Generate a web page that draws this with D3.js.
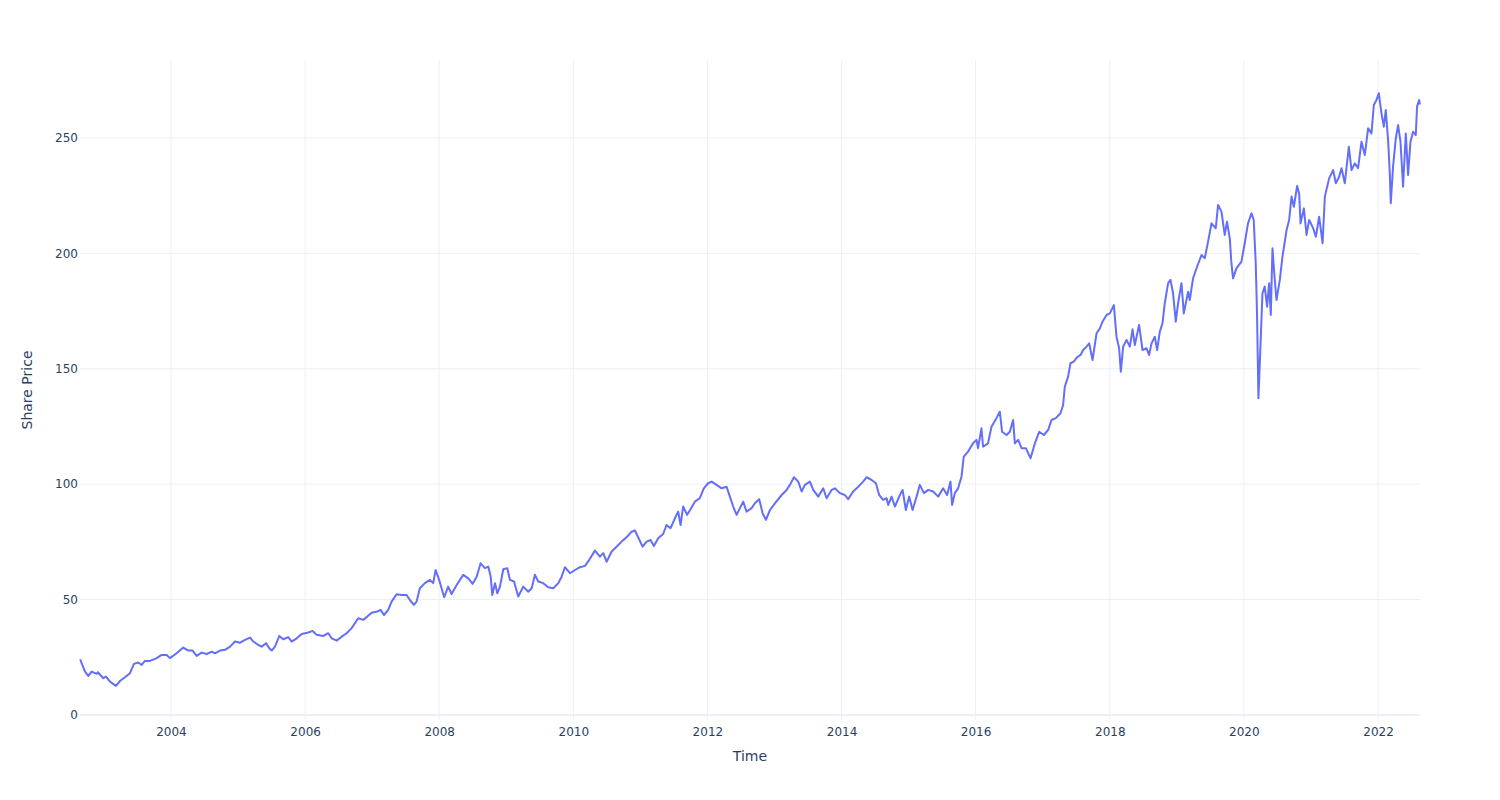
<!DOCTYPE html>
<html>
<head>
<meta charset="utf-8">
<script src="https://d3js.org/d3.v7.min.js"></script>
<title>Share Price</title>
<style>
body { margin: 0; background: #fff; }
svg { display: block; }
text { font-family: "DejaVu Sans", Verdana, sans-serif; fill: #2a3f5f; }
</style>
</head>
<body>
<svg id="svg" width="1500" height="800"></svg>
<script>

// dates as decimal years
let dates = [
  2002.645, 2002.718, 2002.767, 2002.817, 2002.892, 2002.911, 2002.990, 2003.031, 2003.090, 2003.180,
  2003.239, 2003.314, 2003.389, 2003.448, 2003.512, 2003.563, 2003.612, 2003.687, 2003.787, 2003.861,
  2003.936, 2003.985, 2004.085, 2004.183, 2004.258, 2004.323, 2004.383, 2004.457, 2004.532, 2004.607,
  2004.656, 2004.731, 2004.805, 2004.880, 2004.954, 2005.029, 2005.103, 2005.178, 2005.227, 2005.302,
  2005.352, 2005.416, 2005.465, 2005.501, 2005.550, 2005.614, 2005.674, 2005.749, 2005.799, 2005.874,
  2005.948, 2006.047, 2006.112, 2006.172, 2006.270, 2006.345, 2006.396, 2006.470, 2006.545, 2006.619,
  2006.694, 2006.792, 2006.867, 2006.927, 2006.992, 2007.076, 2007.126, 2007.176, 2007.240, 2007.290,
  2007.365, 2007.440, 2007.514, 2007.563, 2007.623, 2007.663, 2007.712, 2007.787, 2007.862, 2007.911,
  2007.947, 2008.000, 2008.036, 2008.075, 2008.134, 2008.185, 2008.260, 2008.358, 2008.433, 2008.498,
  2008.558, 2008.617, 2008.681, 2008.731, 2008.767, 2008.790, 2008.831, 2008.865, 2008.905, 2008.954,
  2009.014, 2009.054, 2009.114, 2009.178, 2009.252, 2009.327, 2009.378, 2009.427, 2009.476, 2009.551,
  2009.625, 2009.700, 2009.775, 2009.825, 2009.874, 2009.949, 2010.024, 2010.098, 2010.173, 2010.237,
  2010.322, 2010.396, 2010.446, 2010.496, 2010.571, 2010.645, 2010.720, 2010.794, 2010.869, 2010.918,
  2010.967, 2011.033, 2011.093, 2011.152, 2011.202, 2011.265, 2011.340, 2011.391, 2011.450, 2011.515,
  2011.564, 2011.600, 2011.638, 2011.698, 2011.749, 2011.813, 2011.887, 2011.947, 2012.011, 2012.062,
  2012.137, 2012.211, 2012.286, 2012.335, 2012.384, 2012.435, 2012.484, 2012.533, 2012.583, 2012.658,
  2012.707, 2012.771, 2012.822, 2012.871, 2012.931, 2013.005, 2013.105, 2013.180, 2013.229, 2013.289,
  2013.353, 2013.404, 2013.453, 2013.527, 2013.577, 2013.651, 2013.726, 2013.776, 2013.851, 2013.900,
  2013.975, 2014.049, 2014.098, 2014.173, 2014.248, 2014.322, 2014.373, 2014.448, 2014.512, 2014.561,
  2014.621, 2014.672, 2014.696, 2014.746, 2014.795, 2014.870, 2014.910, 2014.959, 2015.008, 2015.059,
  2015.119, 2015.168, 2015.228, 2015.292, 2015.366, 2015.441, 2015.515, 2015.575, 2015.625, 2015.649,
  2015.689, 2015.739, 2015.789, 2015.823, 2015.887, 2015.962, 2016.013, 2016.036, 2016.087, 2016.111,
  2016.185, 2016.236, 2016.310, 2016.360, 2016.394, 2016.460, 2016.509, 2016.558, 2016.584, 2016.633,
  2016.684, 2016.748, 2016.818, 2016.882, 2016.946, 2017.016, 2017.080, 2017.130, 2017.194, 2017.264,
  2017.303, 2017.328, 2017.377, 2017.413, 2017.462, 2017.512, 2017.563, 2017.602, 2017.653, 2017.692,
  2017.742, 2017.802, 2017.851, 2017.891, 2017.951, 2018.000, 2018.060, 2018.100, 2018.139, 2018.164,
  2018.199, 2018.249, 2018.299, 2018.339, 2018.373, 2018.437, 2018.488, 2018.547, 2018.586, 2018.622,
  2018.671, 2018.706, 2018.746, 2018.786, 2018.820, 2018.870, 2018.905, 2018.944, 2018.984, 2019.019,
  2019.069, 2019.104, 2019.168, 2019.193, 2019.242, 2019.302, 2019.368, 2019.417, 2019.466, 2019.517,
  2019.581, 2019.615, 2019.666, 2019.715, 2019.749, 2019.790, 2019.815, 2019.839, 2019.889, 2019.964,
  2020.013, 2020.062, 2020.113, 2020.147, 2020.177, 2020.196, 2020.217, 2020.247, 2020.277, 2020.311,
  2020.346, 2020.376, 2020.401, 2020.426, 2020.460, 2020.486, 2020.535, 2020.575, 2020.635, 2020.674,
  2020.710, 2020.744, 2020.793, 2020.823, 2020.844, 2020.893, 2020.933, 2020.972, 2021.032, 2021.072,
  2021.121, 2021.172, 2021.206, 2021.270, 2021.330, 2021.370, 2021.419, 2021.455, 2021.504, 2021.564,
  2021.604, 2021.653, 2021.702, 2021.753, 2021.802, 2021.852, 2021.902, 2021.937, 2021.977, 2022.011,
  2022.051, 2022.086, 2022.115, 2022.150, 2022.175, 2022.190, 2022.224, 2022.265, 2022.299, 2022.335,
  2022.373, 2022.414, 2022.448, 2022.484, 2022.523, 2022.563, 2022.582, 2022.612, 2022.625
];

let prices = [
  24.1, 18.8, 16.9, 18.8, 17.8, 18.5, 15.9, 16.6, 14.4, 12.6,
  14.7, 16.3, 18.1, 22.1, 22.7, 21.7, 23.4, 23.4, 24.6, 26.0,
  26.0, 24.6, 26.7, 29.2, 27.9, 27.9, 25.6, 27.0, 26.4, 27.4,
  26.7, 27.9, 28.2, 29.6, 31.8, 31.3, 32.5, 33.5, 31.8, 30.3,
  29.6, 31.1, 28.9, 27.9, 29.6, 34.2, 32.8, 33.7, 31.8, 33.2,
  35.1, 35.7, 36.4, 34.7, 34.2, 35.4, 33.2, 32.2, 33.9, 35.4,
  37.6, 41.9, 41.2, 42.6, 44.3, 44.8, 45.5, 43.3, 45.5, 49.1,
  52.3, 52.0, 52.0, 49.8, 47.7, 49.1, 54.9, 57.1, 58.5, 57.1,
  62.8, 58.5, 54.9, 51.0, 55.6, 52.4, 56.3, 60.7, 59.2, 56.8,
  59.9, 65.7, 63.6, 64.3, 59.9, 52.0, 57.1, 52.7, 55.6, 63.1,
  63.6, 58.5, 57.8, 51.3, 55.6, 53.4, 54.9, 60.7, 57.8, 57.1,
  55.3, 54.9, 57.1, 59.9, 64.0, 61.4, 62.8, 64.0, 64.6, 67.2,
  71.2, 68.6, 70.1, 66.4, 70.8, 72.9, 75.1, 77.0, 79.4, 79.9,
  77.0, 72.9, 75.1, 75.8, 73.2, 76.6, 78.4, 82.3, 80.9, 85.2,
  88.1, 82.3, 90.3, 86.7, 89.1, 92.4, 93.9, 98.2, 100.4, 101.1,
  99.7, 98.2, 98.9, 94.6, 90.3, 86.7, 89.6, 92.4, 88.1, 89.6,
  91.7, 93.5, 87.4, 84.5, 88.8, 91.7, 95.3, 97.5, 99.7, 103.0,
  101.1, 96.8, 99.7, 101.1, 97.5, 94.6, 98.2, 93.9, 97.5, 98.2,
  96.1, 95.3, 93.5, 96.8, 98.9, 101.1, 103.0, 101.8, 100.4, 95.3,
  93.2, 93.9, 91.0, 94.6, 90.3, 95.3, 97.5, 88.8, 94.6, 88.8,
  94.6, 99.7, 96.1, 97.5, 96.8, 94.6, 98.2, 95.3, 101.1, 91.0,
  96.1, 98.2, 103.2, 111.9, 114.1, 117.7, 119.2, 115.6, 124.2, 116.2,
  117.7, 124.9, 128.6, 131.4, 122.7, 121.3, 122.7, 127.8, 117.7, 119.2,
  115.6, 115.6, 111.2, 117.7, 122.7, 121.3, 123.5, 127.8, 128.6, 130.7,
  134.3, 142.2, 146.6, 152.4, 153.1, 155.0, 156.0, 158.1, 159.6, 161.0,
  153.8, 165.4, 167.5, 170.4, 173.3, 174.0, 177.6, 163.9, 158.9, 148.7,
  159.6, 162.5, 159.6, 167.1, 160.3, 169.0, 158.1, 158.9, 156.0, 161.0,
  163.9, 158.1, 166.1, 169.7, 178.4, 187.1, 188.5, 182.7, 170.4, 178.4,
  187.1, 174.0, 183.4, 179.8, 189.2, 194.2, 199.3, 197.9, 205.1, 213.0,
  210.9, 221.0, 218.1, 208.0, 213.7, 206.5, 195.7, 189.2, 193.5, 196.4,
  204.4, 213.0, 217.4, 214.5, 195.7, 174.0, 137.2, 159.6, 182.7, 185.6,
  176.9, 187.1, 173.3, 202.2, 188.5, 179.8, 188.5, 198.6, 210.0, 214.5,
  224.6, 220.2, 229.2, 226.0, 213.0, 219.5, 208.0, 214.5, 210.9, 207.2,
  215.9, 204.4, 224.6, 232.5, 236.1, 230.4, 233.2, 236.9, 230.4, 246.2,
  236.1, 239.0, 236.9, 248.4, 242.6, 254.2, 252.0, 264.3, 266.5, 269.4,
  260.7, 254.9, 262.1, 249.1, 234.7, 221.7, 237.6, 249.9, 255.6, 248.4,
  228.9, 252.0, 234.0, 248.4, 252.7, 251.3, 263.6, 266.5, 264.5
];

let yTicks = [0, 50, 100, 150, 200, 250];
let xTickYears = [2004, 2006, 2008, 2010, 2012, 2014, 2016, 2018, 2020, 2022];

let width = 1500, height = 800;
let margin = {top: 60, right: 80, bottom: 80, left: 80};

function toDate(t) {
  let y = Math.floor(t);
  let a = new Date(y, 0, 1).getTime();
  let b = new Date(y + 1, 0, 1).getTime();
  return new Date(a + (t - y) * (b - a));
}

let data = dates.map(function(t, i) { return {date: toDate(t), price: prices[i]}; });

let svg = d3.select("#svg");

let x = d3.scaleTime()
  .domain([toDate(2002.643), toDate(2022.626)])
  .range([margin.left, width - margin.right]);

let y = d3.scaleLinear()
  .domain([-2.2, 283.8])
  .range([height - margin.bottom, margin.top]);

// grid
let grid = svg.append("g");
grid.selectAll(".vgrid")
  .data(xTickYears)
  .enter().append("line")
  .attr("class", "vgrid")
  .attr("x1", function(d) { return x(new Date(d, 0, 1)); })
  .attr("x2", function(d) { return x(new Date(d, 0, 1)); })
  .attr("y1", margin.top)
  .attr("y2", height - margin.bottom)
  .attr("stroke", "#EBF0F8")
  .attr("stroke-width", 1);

grid.selectAll(".hgrid")
  .data(yTicks)
  .enter().append("line")
  .attr("class", "hgrid")
  .attr("x1", margin.left)
  .attr("x2", width - margin.right)
  .attr("y1", function(d) { return y(d); })
  .attr("y2", function(d) { return y(d); })
  .attr("stroke", "#EBF0F8")
  .attr("stroke-width", function(d) { return d === 0 ? 2 : 1; });

// axes (labels only, plotly_white style)
let xAxis = d3.axisBottom(x)
  .tickValues(xTickYears.map(function(d) { return new Date(d, 0, 1); }))
  .tickFormat(d3.timeFormat("%Y"))
  .tickSize(0)
  .tickPadding(7);

let yAxis = d3.axisLeft(y)
  .tickValues(yTicks)
  .tickSize(0)
  .tickPadding(2);

let gx = svg.append("g")
  .attr("transform", "translate(0," + (height - margin.bottom) + ")")
  .call(xAxis);
let gy = svg.append("g")
  .attr("transform", "translate(" + margin.left + ",0)")
  .call(yAxis);

[gx, gy].forEach(function(g) {
  g.select(".domain").remove();
  g.selectAll("text")
    .attr("fill", "#2a3f5f")
    .style("font-size", "12px")
    .style("font-family", "'DejaVu Sans', Verdana, sans-serif");
});

// line
let line = d3.line()
  .x(function(d) { return x(d.date); })
  .y(function(d) { return y(d.price); });

svg.append("path")
  .datum(data)
  .attr("d", line)
  .attr("fill", "none")
  .attr("stroke", "#636efa")
  .attr("stroke-width", 2)
  .attr("stroke-linejoin", "round");

// titles
svg.append("text")
  .attr("x", (margin.left + width - margin.right) / 2)
  .attr("y", 761)
  .attr("text-anchor", "middle")
  .style("font-size", "14px")
  .text("Time");

svg.append("text")
  .attr("transform", "translate(32," + ((margin.top + height - margin.bottom) / 2) + ") rotate(-90)")
  .attr("text-anchor", "middle")
  .style("font-size", "14px")
  .text("Share Price");

</script>
</body>
</html>
